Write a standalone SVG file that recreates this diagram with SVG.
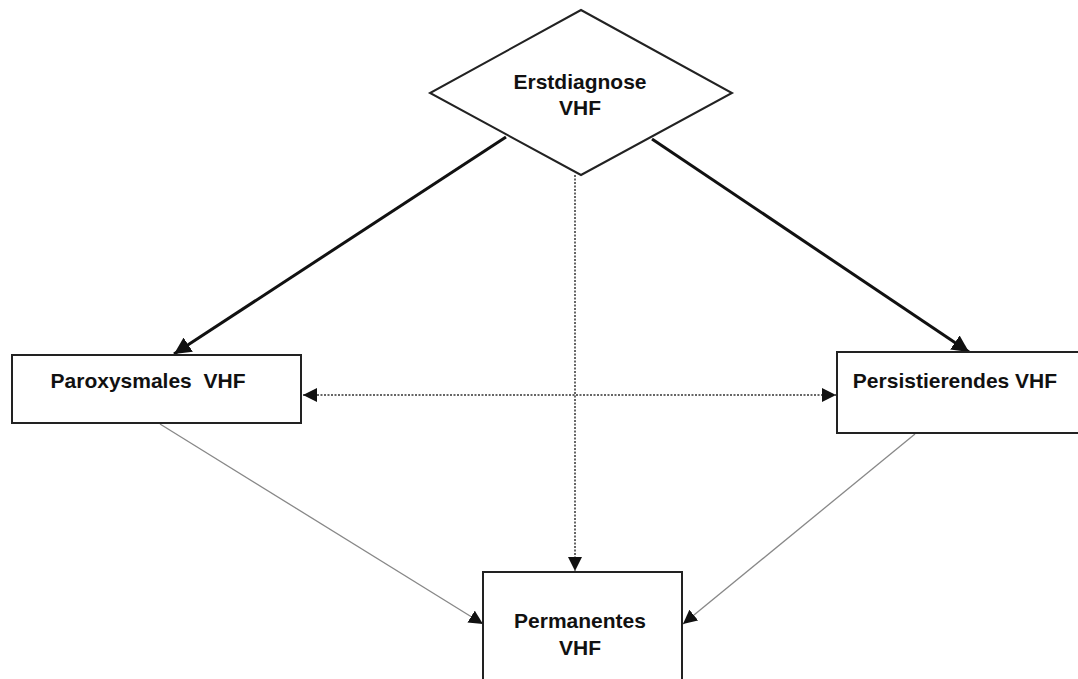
<svg xmlns="http://www.w3.org/2000/svg" width="1078" height="679" viewBox="0 0 1078 679">
<defs>
<style>
.node{fill:#fff;stroke:#222;stroke-width:2}
.lbl{font-family:"Liberation Sans",Arial,sans-serif;font-weight:bold;font-size:21px;fill:#111;text-anchor:middle}
.thick{stroke:#111;stroke-width:3;fill:none}
.dot{stroke:#666;stroke-width:2;stroke-dasharray:2 1.5;fill:none}
.thin{stroke:#888;stroke-width:1.3;fill:none}
</style>
<marker id="ah" viewBox="0 0 10 10" refX="10" refY="5" markerWidth="14" markerHeight="14" markerUnits="userSpaceOnUse" orient="auto-start-reverse"><path d="M0,0 L10,5 L0,10 z" fill="#111"/></marker>
<marker id="ahs" viewBox="0 0 10 10" refX="10" refY="5" markerWidth="17" markerHeight="17" markerUnits="userSpaceOnUse" orient="auto-start-reverse"><path d="M0,0 L10,5 L0,10 z" fill="#111"/></marker>
</defs>
<rect width="1078" height="679" fill="#fff"/>
<g id="connectors">
<line class="thick" x1="506" y1="137" x2="174" y2="354" marker-end="url(#ahs)"/>
<line class="thick" x1="652" y1="139" x2="969" y2="352" marker-end="url(#ahs)"/>
<line class="dot" x1="575" y1="175" x2="575" y2="571" marker-end="url(#ah)"/>
<line class="dot" x1="303" y1="395" x2="836" y2="395" marker-start="url(#ah)" marker-end="url(#ah)"/>
<line class="thin" x1="160" y1="424" x2="483" y2="624" marker-end="url(#ah)"/>
<line class="thin" x1="915" y1="434" x2="683" y2="624" marker-end="url(#ah)"/>
</g>
<g id="erstdiagnose">
<polygon class="node" points="581,10 732,93 581,175 430,93"/>
<text class="lbl" x="580" y="89">Erstdiagnose</text>
<text class="lbl" x="580" y="115">VHF</text>
</g>
<g id="paroxysmal">
<rect class="node" x="12" y="355" width="289" height="68"/>
<text class="lbl" x="148" y="388" xml:space="preserve">Paroxysmales  VHF</text>
</g>
<g id="persistierend">
<rect class="node" x="837" y="352" width="250" height="81"/>
<text class="lbl" x="955" y="388">Persistierendes VHF</text>
</g>
<g id="permanent">
<rect class="node" x="483" y="572" width="199" height="120"/>
<text class="lbl" x="580" y="628">Permanentes</text>
<text class="lbl" x="580" y="655">VHF</text>
</g>
</svg>
